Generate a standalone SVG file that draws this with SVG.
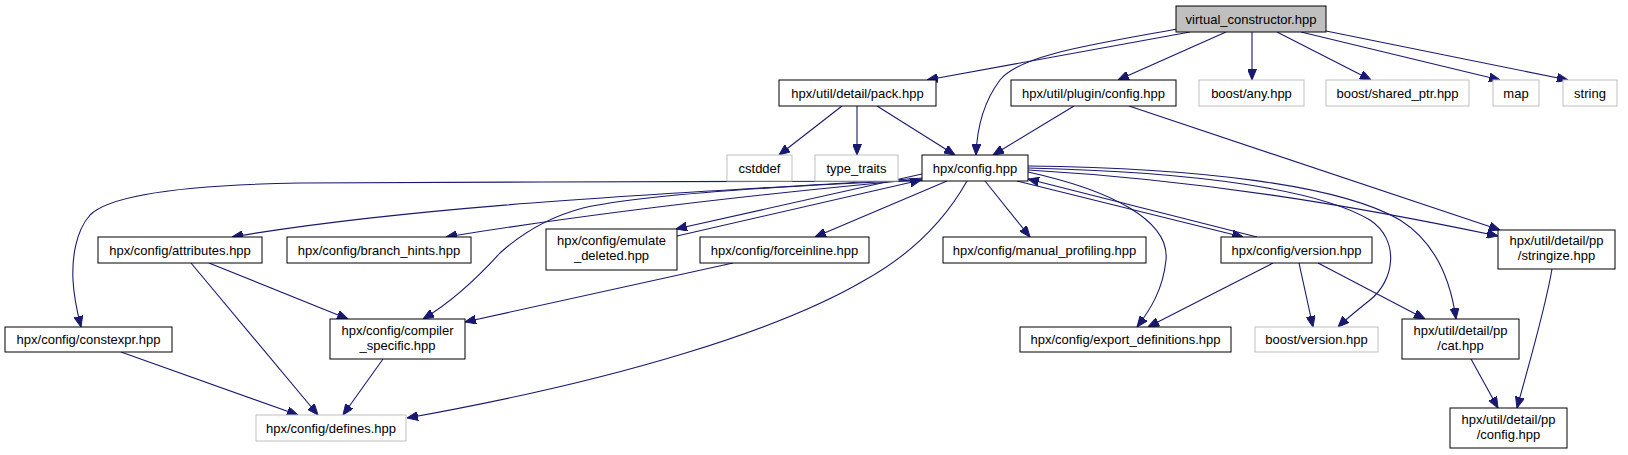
<svg xmlns="http://www.w3.org/2000/svg" width="1628" height="455" viewBox="0 0 1628 455">
<style>
  .n rect { fill: #ffffff; stroke: #000000; stroke-width: 1; }
  .n.ext rect { stroke: #bfbfbf; }
  .n.root rect { fill: #bfbfbf; }
  .n text { font-family: "Liberation Sans", Arial, sans-serif; font-size: 13px; fill: #000000; text-anchor: middle; }
  #edges path { fill: none; stroke: #191970; stroke-width: 1.1; marker-end: url(#arr); }
</style>
<defs>
  <marker id="arr" markerWidth="11" markerHeight="9" refX="11" refY="4.5" orient="auto" markerUnits="userSpaceOnUse">
    <path d="M0,0 L11,4.5 L0,9 z" fill="#191970" stroke="#191970" stroke-width="1"/>
  </marker>
</defs>
<rect width="1628" height="455" fill="#ffffff"/>

<g id="edges">
  <!-- from virtual_constructor -->
  <path d="M1190,32 L927,80"/>
  <path d="M1177,29 C1090,45 1020,55 1000,80 C985,100 977,125 976,155"/>
  <path d="M1226,32 L1118,80"/>
  <path d="M1252,32 L1252,80"/>
  <path d="M1277,32 L1371,80"/>
  <path d="M1301,32 L1500,80"/>
  <path d="M1326,31 L1568,80"/>
  <!-- from pack -->
  <path d="M842,106 L779,155"/>
  <path d="M857,106 L857,155"/>
  <path d="M877,106 L955,155"/>
  <!-- from plugin -->
  <path d="M1074,106 L993,155"/>
  <path d="M1129,106 L1500,230"/>
  <!-- from hpx/config.hpp -->
  <path d="M922,181 C800,183 500,181 300,183 C180,185 110,195 90,215 C75,232 72,260 73,280 C74,300 78,315 81,327"/>
  <path d="M922,178 C760,190 450,200 232,237"/>
  <path d="M922,179 C780,192 600,212 446,237"/>
  <path d="M924,180 C780,186 640,195 583,208 C545,218 520,235 500,253 C480,275 455,300 423,319"/>
  <path d="M922,174 L676,229"/>
  <path d="M677,236 L921,180"/>
  <path d="M947,181 L815,237"/>
  <path d="M967,181 C945,220 910,255 865,280 C780,330 620,380 407,418"/>
  <path d="M985,181 L1030,237"/>
  <path d="M1028,172 C1110,190 1170,220 1166,260 C1163,290 1150,310 1137,327"/>
  <path d="M1017,181 L1243,237"/>
  <path d="M1257,237 L1028,179"/>
  <path d="M1028,168 C1200,172 1320,190 1370,220 C1400,240 1395,280 1370,300 C1355,312 1345,320 1338,327"/>
  <path d="M1028,166 C1200,168 1340,185 1400,220 C1440,245 1452,290 1456,319"/>
  <path d="M1028,170 C1200,180 1350,205 1498,236"/>
  <!-- lower -->
  <path d="M209,263 L348,319"/>
  <path d="M191,263 L318,415"/>
  <path d="M733,263 L465,322"/>
  <path d="M383,359 L343,415"/>
  <path d="M121,352 L298,415"/>
  <path d="M1273,263 L1148,327"/>
  <path d="M1299,263 L1313,327"/>
  <path d="M1318,263 L1425,319"/>
  <path d="M1471,359 L1498,408"/>
  <path d="M1552,269 C1545,310 1530,360 1517,408"/>
</g>

<g id="virtual_constructor" class="n root"><rect x="1176" y="6" width="150" height="26"/><text x="1251" y="23.5">virtual_constructor.hpp</text></g>
<g id="pack" class="n"><rect x="779" y="80" width="157" height="26"/><text x="857.5" y="97.5">hpx/util/detail/pack.hpp</text></g>
<g id="plugin_config" class="n"><rect x="1011" y="80" width="165" height="26"/><text x="1093.5" y="97.5">hpx/util/plugin/config.hpp</text></g>
<g id="boost_any" class="n ext"><rect x="1199" y="80" width="105" height="26"/><text x="1251.5" y="97.5">boost/any.hpp</text></g>
<g id="boost_shared_ptr" class="n ext"><rect x="1326" y="80" width="143" height="26"/><text x="1397.5" y="97.5">boost/shared_ptr.hpp</text></g>
<g id="map" class="n ext"><rect x="1493" y="80" width="46" height="26"/><text x="1516" y="97.5">map</text></g>
<g id="string" class="n ext"><rect x="1563" y="80" width="54" height="26"/><text x="1590" y="97.5">string</text></g>

<g id="cstddef" class="n ext"><rect x="727" y="155" width="65" height="26"/><text x="759.5" y="172.5">cstddef</text></g>
<g id="type_traits" class="n ext"><rect x="815" y="155" width="83" height="26"/><text x="856.5" y="172.5">type_traits</text></g>
<g id="hpx_config" class="n"><rect x="922" y="155" width="106" height="26"/><text x="975" y="172.5">hpx/config.hpp</text></g>

<g id="attributes" class="n"><rect x="98" y="237" width="164" height="26"/><text x="180" y="254.5">hpx/config/attributes.hpp</text></g>
<g id="branch_hints" class="n"><rect x="287" y="237" width="184" height="26"/><text x="379" y="254.5">hpx/config/branch_hints.hpp</text></g>
<g id="emulate_deleted" class="n"><rect x="546" y="229" width="131" height="41"/><text x="611.5" y="245">hpx/config/emulate</text><text x="611.5" y="260">_deleted.hpp</text></g>
<g id="forceinline" class="n"><rect x="700" y="237" width="169" height="26"/><text x="784.5" y="254.5">hpx/config/forceinline.hpp</text></g>
<g id="manual_profiling" class="n"><rect x="943" y="237" width="203" height="26"/><text x="1044.5" y="254.5">hpx/config/manual_profiling.hpp</text></g>
<g id="version" class="n"><rect x="1221" y="237" width="151" height="26"/><text x="1296.5" y="254.5">hpx/config/version.hpp</text></g>
<g id="stringize" class="n"><rect x="1498" y="230" width="117" height="39"/><text x="1556.5" y="245">hpx/util/detail/pp</text><text x="1556.5" y="260">/stringize.hpp</text></g>

<g id="constexpr" class="n"><rect x="5" y="327" width="167" height="25"/><text x="88.5" y="344">hpx/config/constexpr.hpp</text></g>
<g id="compiler_specific" class="n"><rect x="330" y="319" width="135" height="40"/><text x="397.5" y="335">hpx/config/compiler</text><text x="397.5" y="350">_specific.hpp</text></g>
<g id="export_definitions" class="n"><rect x="1020" y="327" width="211" height="25"/><text x="1125.5" y="344">hpx/config/export_definitions.hpp</text></g>
<g id="boost_version" class="n ext"><rect x="1255" y="327" width="123" height="25"/><text x="1316.5" y="344">boost/version.hpp</text></g>
<g id="pp_cat" class="n"><rect x="1402" y="319" width="117" height="40"/><text x="1460.5" y="335">hpx/util/detail/pp</text><text x="1460.5" y="350">/cat.hpp</text></g>

<g id="defines" class="n ext"><rect x="256" y="415" width="150" height="26"/><text x="331" y="432.5">hpx/config/defines.hpp</text></g>
<g id="pp_config" class="n"><rect x="1450" y="408" width="117" height="40"/><text x="1508.5" y="424">hpx/util/detail/pp</text><text x="1508.5" y="439">/config.hpp</text></g>
</svg>
